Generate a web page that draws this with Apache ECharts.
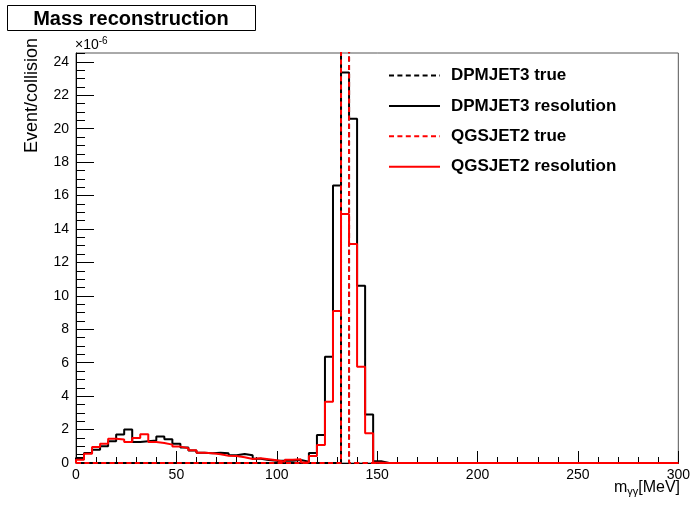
<!DOCTYPE html>
<html>
<head>
<meta charset="utf-8">
<script src="https://cdn.jsdelivr.net/npm/echarts@6/dist/echarts.min.js"></script>
<style>
  html, body { margin: 0; padding: 0; background: #fff; }
  #chart { width: 693px; height: 506px; }
</style>
</head>
<body>
<div id="chart"></div>
<script>
// Diphoton invariant mass, 4 MeV bins from 0 to 300 MeV (units of 1e-6 per collision)
const binWidth = 4;
const massRange = [0, 300];
const yTicks = [0, 2, 4, 6, 8, 10, 12, 14, 16, 18, 20, 22, 24];

// Filled bins (0-152 MeV); every later bin is empty
const dpmjetResolution = [
  0.30, 0.60, 0.80, 1.00, 1.30, 1.70, 2.00, 1.25, 1.30, 1.35,
  1.58, 1.42, 1.15, 0.92, 0.75, 0.62, 0.58, 0.62, 0.58, 0.46,
  0.54, 0.46, 0.26, 0.18, 0.14, 0.13, 0.13, 0.18, 0.08, 0.60,
  1.68, 6.36, 16.6, 23.36, 20.6, 10.6, 2.90, 0.10
];
const qgsjetResolution = [
  0.20, 0.55, 0.95, 1.15, 1.45, 1.40, 1.25, 1.50, 1.72, 1.26,
  1.20, 1.10, 0.98, 0.88, 0.76, 0.62, 0.58, 0.52, 0.44, 0.42,
  0.34, 0.24, 0.28, 0.22, 0.16, 0.08, 0.20, 0.22, 0.03, 0.42,
  1.08, 3.67, 9.10, 14.9, 13.1, 5.76, 1.78, 0.02
];
// Generated pi0 mass: one bin (132-136 MeV), far above the plotted range
const dpmjetTrue = [
  0, 0, 0, 0, 0, 0, 0, 0, 0, 0,
  0, 0, 0, 0, 0, 0, 0, 0, 0, 0,
  0, 0, 0, 0, 0, 0, 0, 0, 0, 0,
  0, 0, 0, 82, 0, 0, 0, 0
];
const qgsjetTrue = [
  0, 0, 0, 0, 0, 0, 0, 0, 0, 0,
  0, 0, 0, 0, 0, 0, 0, 0, 0, 0,
  0, 0, 0, 0, 0, 0, 0, 0, 0, 0,
  0, 0, 0, 56, 0, 0, 0, 0
];

const FONT = '"Liberation Sans", Arial, Helvetica, sans-serif';
const nBins = Math.round((massRange[1] - massRange[0]) / binWidth);
const yMax = Math.max(...dpmjetResolution) * 1.05;

// Histogram outline: flat top over each bin, vertical joins at the edges
function outline(values) {
  const pts = [[massRange[0], 0]];
  for (let i = 0; i < nBins; i++) {
    const v = i < values.length ? values[i] : 0;
    const lo = massRange[0] + i * binWidth;
    pts.push([lo, v], [lo + binWidth, v]);
  }
  pts.push([massRange[1], 0]);
  return pts;
}

const dash = [5, 3.4];
function histSeries(name, values, color, dashed, z, dashOffset) {
  return {
    name, type: 'line', data: outline(values), z,
    symbol: 'none', clip: true, animation: false,
    lineStyle: { color, width: 2, type: dashed ? dash : 'solid', dashOffset: dashOffset || 0 },
    emphasis: { disabled: true }
  };
}

const legendRows = [
  { name: 'DPMJET3 true', color: '#000', dashed: true },
  { name: 'DPMJET3 resolution', color: '#000', dashed: false },
  { name: 'QGSJET2 true', color: '#ff0000', dashed: true },
  { name: 'QGSJET2 resolution', color: '#ff0000', dashed: false }
];

const graphics = [
  // title box
  { type: 'rect', shape: { x: 7.5, y: 5.5, width: 248, height: 25 },
    style: { fill: '#fff', stroke: '#000', lineWidth: 1 }, z: 10 },
  { type: 'text', x: 131, y: 19, z: 11,
    style: { text: 'Mass reconstruction', font: 'bold 20px ' + FONT, fill: '#000',
             textAlign: 'center', textVerticalAlign: 'middle' } },
  // exponent of the y axis
  { type: 'text', x: 75, y: 45, z: 11,
    style: { text: '×10{s|-6}', font: '14px ' + FONT, fill: '#000', textVerticalAlign: 'middle',
             rich: { s: { fontSize: 10, fontFamily: FONT, verticalAlign: 'top', padding: [0, 0, 8, 0] } } } },
  // y axis title
  { type: 'text', x: 32, y: 38, rotation: Math.PI / 2, z: 11,
    style: { text: 'Event/collision', font: '18px ' + FONT, fill: '#000',
             textAlign: 'right', textVerticalAlign: 'middle' } },
  // x axis title
  { type: 'text', x: 680, y: 488, z: 11,
    style: { text: 'm{s|γγ}[MeV]', font: '16px ' + FONT, fill: '#000',
             textAlign: 'right', textVerticalAlign: 'middle',
             rich: { s: { fontSize: 11, fontFamily: FONT, padding: [8, 0, 0, 0] } } } }
];

legendRows.forEach((row, i) => {
  const y = 75.5 + i * 30.4;
  graphics.push({ type: 'line', z: 11, shape: { x1: 389, y1: y, x2: 440, y2: y },
    style: { stroke: row.color, lineWidth: 2, lineDash: row.dashed ? dash : null } });
  graphics.push({ type: 'text', x: 451, y: y, z: 11,
    style: { text: row.name, font: 'bold 17px ' + FONT, fill: '#000', textVerticalAlign: 'middle' } });
});

const chart = echarts.init(document.getElementById('chart'), null, { renderer: 'canvas' });
chart.setOption({
  animation: false,
  backgroundColor: '#fff',
  grid: { left: 76, right: 14, top: 53, bottom: 43, show: true, borderColor: '#555', borderWidth: 1, backgroundColor: 'transparent' },
  xAxis: {
    type: 'value', min: massRange[0], max: massRange[1], interval: 50,
    axisLine: { onZero: false, lineStyle: { color: '#000', width: 1 } },
    axisTick: { inside: true, length: 12, lineStyle: { color: '#000' } },
    minorTick: { show: true, splitNumber: 5, length: 6, lineStyle: { color: '#000' } },
    axisLabel: { color: '#000', fontSize: 14, fontFamily: FONT, margin: 5 },
    splitLine: { show: false }
  },
  yAxis: [
    {
      type: 'value', min: 0, max: yMax, interval: 2,
      axisLine: { show: true, onZero: false, lineStyle: { color: '#000', width: 1 } },
      axisTick: { show: true, inside: true, length: 18, lineStyle: { color: '#000' } },
      axisLabel: { color: '#000', fontSize: 14, fontFamily: FONT, margin: 7, showMaxLabel: false,
                   formatter: v => (yTicks.indexOf(v) >= 0 ? String(v) : '') },
      splitLine: { show: false }
    },
    {
      type: 'value', min: 0, max: yMax, interval: 0.5, position: 'left',
      axisLine: { show: false },
      axisTick: { show: true, inside: true, length: 9, lineStyle: { color: '#000' } },
      axisLabel: { show: false },
      splitLine: { show: false }
    }
  ],
  series: [
    histSeries('DPMJET3 true', dpmjetTrue, '#000', true, 2, 4.39),
    histSeries('DPMJET3 resolution', dpmjetResolution, '#000', false, 3),
    histSeries('QGSJET2 resolution', qgsjetResolution, '#ff0000', false, 4),
    histSeries('QGSJET2 true', qgsjetTrue, '#ff0000', true, 5)
  ],
  graphic: graphics
});
</script>
</body>
</html>
